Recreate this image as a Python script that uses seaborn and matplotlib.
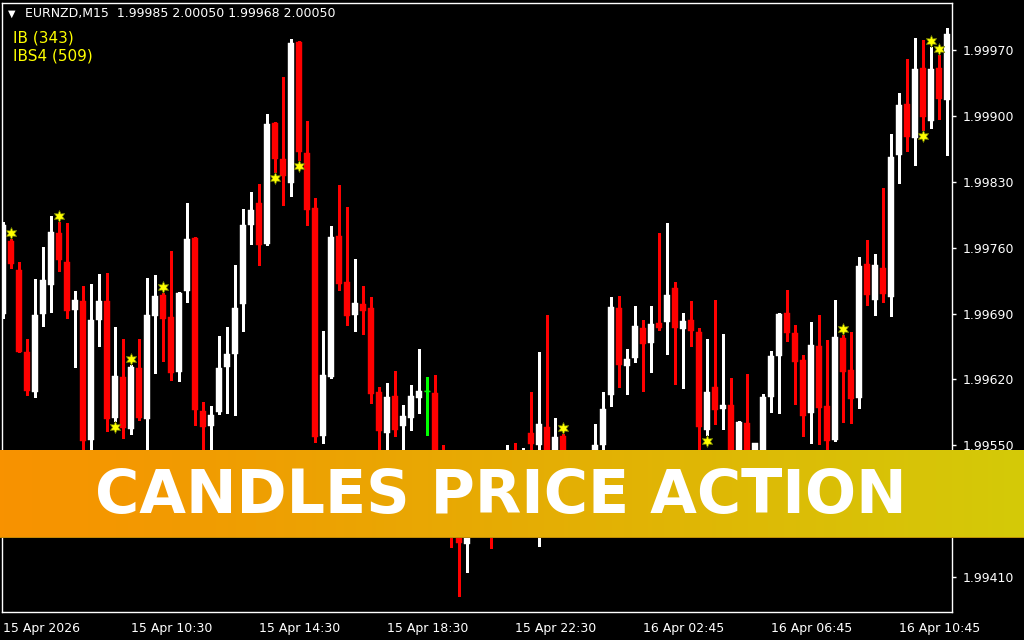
import numpy as np
import pandas as pd
import matplotlib.pyplot as plt
import seaborn as sns
from matplotlib.colors import LinearSegmentedColormap

# EURNZD M15 bars
opens = [1.99690, 1.99767, 1.99736, 1.99649, 1.99607, 1.99690, 1.99720, 1.99776, 1.99745, 1.99694,
         1.99703, 1.99556, 1.99683, 1.99703, 1.99579, 1.99623, 1.99567, 1.99632, 1.99578, 1.99687,
         1.99710, 1.99686, 1.99628, 1.99714, 1.99770, 1.99586, 1.99571, 1.99585, 1.99633, 1.99647,
         1.99700, 1.99784, 1.99807, 1.99764, 1.99892, 1.99854, 1.99829, 1.99978, 1.99861, 1.99802,
         1.99560, 1.99623, 1.99772, 1.99724, 1.99688, 1.99700, 1.99696, 1.99607, 1.99563, 1.99602,
         1.99571, 1.99579, 1.99600, 1.99608, 1.99606, 1.99503, 1.99492, 1.99465, 1.99445, 1.99481,
         1.99503, 1.99492, 1.99465, 1.99503, 1.99534, 1.99508, 1.99563, 1.99550, 1.99569, 1.99524,
         1.99560, 1.99503, 1.99524, 1.99513, 1.99524, 1.99550, 1.99603, 1.99696, 1.99634, 1.99643,
         1.99675, 1.99659, 1.99680, 1.99681, 1.99717, 1.99674, 1.99683, 1.99670, 1.99566, 1.99612,
         1.99589, 1.99593, 1.99524, 1.99574, 1.99524, 1.99534, 1.99601, 1.99645, 1.99691, 1.99669,
         1.99641, 1.99584, 1.99656, 1.99592, 1.99556, 1.99664, 1.99630, 1.99600, 1.99743, 1.99704,
         1.99738, 1.99708, 1.99858, 1.99913, 1.99877, 1.99951, 1.99895, 1.99951, 1.99917]
highs = [1.99787, 1.99769, 1.99745, 1.99663, 1.99727, 1.99761, 1.99794, 1.99787, 1.99786, 1.99714,
         1.99719, 1.99721, 1.99732, 1.99733, 1.99676, 1.99663, 1.99635, 1.99663, 1.99728, 1.99731,
         1.99712, 1.99756, 1.99713, 1.99807, 1.99771, 1.99596, 1.99592, 1.99666, 1.99676, 1.99742,
         1.99801, 1.99819, 1.99828, 1.99902, 1.99893, 1.99941, 1.99982, 1.99980, 1.99895, 1.99813,
         1.99671, 1.99783, 1.99827, 1.99803, 1.99748, 1.99719, 1.99708, 1.99612, 1.99616, 1.99629,
         1.99593, 1.99614, 1.99652, 1.99623, 1.99625, 1.99550, 1.99524, 1.99492, 1.99497, 1.99508,
         1.99519, 1.99513, 1.99524, 1.99550, 1.99552, 1.99547, 1.99607, 1.99649, 1.99688, 1.99579,
         1.99562, 1.99534, 1.99537, 1.99543, 1.99573, 1.99607, 1.99708, 1.99709, 1.99652, 1.99698,
         1.99683, 1.99698, 1.99776, 1.99786, 1.99724, 1.99691, 1.99703, 1.99675, 1.99663, 1.99704,
         1.99668, 1.99622, 1.99576, 1.99626, 1.99552, 1.99605, 1.99650, 1.99691, 1.99715, 1.99678,
         1.99646, 1.99681, 1.99688, 1.99662, 1.99704, 1.99667, 1.99670, 1.99750, 1.99768, 1.99753,
         1.99823, 1.99881, 1.99924, 1.99960, 1.99983, 1.99981, 1.99973, 1.99965, 1.99993]
lows = [1.99685, 1.99738, 1.99649, 1.99603, 1.99601, 1.99677, 1.99692, 1.99735, 1.99685, 1.99633,
        1.99532, 1.99537, 1.99656, 1.99565, 1.99576, 1.99558, 1.99562, 1.99577, 1.99543, 1.99627,
        1.99640, 1.99619, 1.99618, 1.99702, 1.99572, 1.99537, 1.99540, 1.99583, 1.99584, 1.99582,
        1.99671, 1.99764, 1.99742, 1.99763, 1.99840, 1.99805, 1.99815, 1.99853, 1.99784, 1.99554,
        1.99552, 1.99622, 1.99715, 1.99678, 1.99671, 1.99668, 1.99595, 1.99534, 1.99537, 1.99560,
        1.99540, 1.99566, 1.99584, 1.99561, 1.99497, 1.99462, 1.99442, 1.99390, 1.99415, 1.99465,
        1.99476, 1.99441, 1.99455, 1.99492, 1.99492, 1.99497, 1.99534, 1.99443, 1.99513, 1.99513,
        1.99513, 1.99492, 1.99492, 1.99497, 1.99515, 1.99540, 1.99592, 1.99612, 1.99605, 1.99639,
        1.99608, 1.99628, 1.99673, 1.99647, 1.99615, 1.99611, 1.99656, 1.99540, 1.99561, 1.99573,
        1.99567, 1.99513, 1.99513, 1.99508, 1.99519, 1.99524, 1.99585, 1.99584, 1.99661, 1.99594,
        1.99560, 1.99552, 1.99551, 1.99540, 1.99555, 1.99575, 1.99574, 1.99590, 1.99699, 1.99688,
        1.99702, 1.99687, 1.99829, 1.99863, 1.99848, 1.99885, 1.99887, 1.99897, 1.99858]
closes = [1.99784, 1.99743, 1.99649, 1.99608, 1.99688, 1.99726, 1.99777, 1.99747, 1.99693, 1.99704,
          1.99555, 1.99683, 1.99703, 1.99578, 1.99624, 1.99568, 1.99633, 1.99579, 1.99688, 1.99709,
          1.99684, 1.99627, 1.99712, 1.99769, 1.99588, 1.99569, 1.99582, 1.99632, 1.99647, 1.99696,
          1.99784, 1.99800, 1.99763, 1.99891, 1.99854, 1.99836, 1.99977, 1.99862, 1.99800, 1.99559,
          1.99625, 1.99771, 1.99721, 1.99687, 1.99701, 1.99693, 1.99605, 1.99565, 1.99601, 1.99566,
          1.99581, 1.99602, 1.99608, 1.99608, 1.99513, 1.99471, 1.99460, 1.99446, 1.99481, 1.99497,
          1.99487, 1.99460, 1.99497, 1.99524, 1.99513, 1.99529, 1.99551, 1.99573, 1.99524, 1.99559,
          1.99524, 1.99524, 1.99508, 1.99540, 1.99550, 1.99589, 1.99697, 1.99635, 1.99642, 1.99677,
          1.99658, 1.99679, 1.99675, 1.99710, 1.99675, 1.99682, 1.99671, 1.99569, 1.99607, 1.99588,
          1.99593, 1.99524, 1.99575, 1.99524, 1.99552, 1.99601, 1.99645, 1.99690, 1.99669, 1.99639,
          1.99581, 1.99657, 1.99590, 1.99555, 1.99665, 1.99628, 1.99599, 1.99741, 1.99710, 1.99742,
          1.99711, 1.99856, 1.99912, 1.99878, 1.99950, 1.99899, 1.99950, 1.99918, 1.99987]

# pattern markers (bar index)
stars_above = [1, 7, 16, 20, 70, 105, 116, 117]
stars_below = [14, 34, 37, 88, 115]

price_ticks = [1.99410, 1.99480, 1.99550, 1.99620, 1.99690, 1.99760, 1.99830, 1.99900, 1.99970]
time_ticks = [0, 16, 32, 48, 64, 80, 96, 112]
time_labels = ['15 Apr 2026', '15 Apr 10:30', '15 Apr 14:30', '15 Apr 18:30',
               '15 Apr 22:30', '16 Apr 02:45', '16 Apr 06:45', '16 Apr 10:45']

header = 'EURNZD,M15  1.99985 2.00050 1.99968 2.00050'
banner_title = 'CANDLES PRICE ACTION'

sns.set_theme(style='dark', rc={'axes.facecolor': 'black', 'figure.facecolor': 'black'})
plt.rcParams['font.family'] = ['DejaVu Sans']

df = pd.DataFrame({'open': opens, 'high': highs, 'low': lows, 'close': closes})
df['bar'] = np.arange(len(df))
df['color'] = np.where(df['close'] > df['open'], '#FFFFFF',
                       np.where(df['close'] < df['open'], '#FF0000', '#00FF00'))

fig = plt.figure(figsize=(10.24, 6.4), dpi=100, facecolor='black')
ax = fig.add_axes([2 / 1024, 28 / 640, 950 / 1024, 609 / 640])
ax.set_facecolor('black')

# wicks and bodies
ax.vlines(df['bar'], df['low'], df['high'], colors=df['color'], lw=1, antialiased=False)
ax.bar(df['bar'], df['close'] - df['open'], bottom=df['open'], width=0.68,
       color=df['color'], edgecolor=df['color'], linewidth=0.3)
doji = df[df['close'] == df['open']]
ax.hlines(doji['open'], doji['bar'] - 0.34, doji['bar'] + 0.34, colors='#00FF00', lw=1)

# star markers
off = 0.000065
st = pd.concat([
    pd.DataFrame({'bar': stars_above, 'y': df.loc[stars_above, 'high'].values + off}),
    pd.DataFrame({'bar': stars_below, 'y': df.loc[stars_below, 'low'].values - off}),
])
sns.scatterplot(data=st, x='bar', y='y', ax=ax, marker=(6, 1, 0), s=75,
                color='#FFFF00', edgecolor='#6B7A00', linewidth=0.5, zorder=5, legend=False)

ax.set_xlim(-0.125, 118.625)
ax.set_ylim(1.99373, 2.000199)
ax.grid(False)
for sp in ax.spines.values():
    sp.set_color('white')
    sp.set_linewidth(1)

ax.yaxis.tick_right()
ax.set_yticks(price_ticks)
ax.set_yticklabels([f'{v:.5f}' for v in price_ticks])
ax.set_xticks(time_ticks)
ax.set_xticklabels(time_labels, ha='left')
ax.tick_params(axis='both', colors='white', length=3, width=1, labelsize=9,
               direction='out', labelcolor='white')
ax.tick_params(axis='y', pad=5)
ax.tick_params(axis='x', pad=4)
ax.set_xlabel('')
ax.set_ylabel('')

# header and indicator labels
ax.text(6 / 950, 1 - 11 / 609, '\u25BC', transform=ax.transAxes, color='white',
        fontsize=7, va='center', ha='left')
ax.text(23 / 950, 1 - 11 / 609, header, transform=ax.transAxes, color='white',
        fontsize=9, va='center', ha='left')
ax.text(11 / 950, 1 - 35 / 609, 'IB (343)', transform=ax.transAxes, color='#FFFF00',
        fontsize=11, va='center', ha='left')
ax.text(11 / 950, 1 - 53 / 609, 'IBS4 (509)', transform=ax.transAxes, color='#FFFF00',
        fontsize=11, va='center', ha='left')

# banner across the chart
bax = fig.add_axes([0, (640 - 538) / 640, 1, 88 / 640], zorder=10)
cmap = LinearSegmentedColormap.from_list('banner', ['#F89200', '#E6AC04', '#D4CA08'])
bax.imshow(np.linspace(0, 1, 512).reshape(1, -1), cmap=cmap, aspect='auto',
           extent=[0, 1, 0, 1])
bax.axhline(0.005, color='#B8860B', lw=1.2)
bax.set_xlim(0, 1)
bax.set_ylim(0, 1)
bax.axis('off')
bax.text(0.489, 0.284, banner_title, color='white', fontsize=43.5,
         family=['DejaVu Sans'], weight='bold', ha='center', va='baseline')

fig.savefig('out.png', dpi=100, facecolor='black')
